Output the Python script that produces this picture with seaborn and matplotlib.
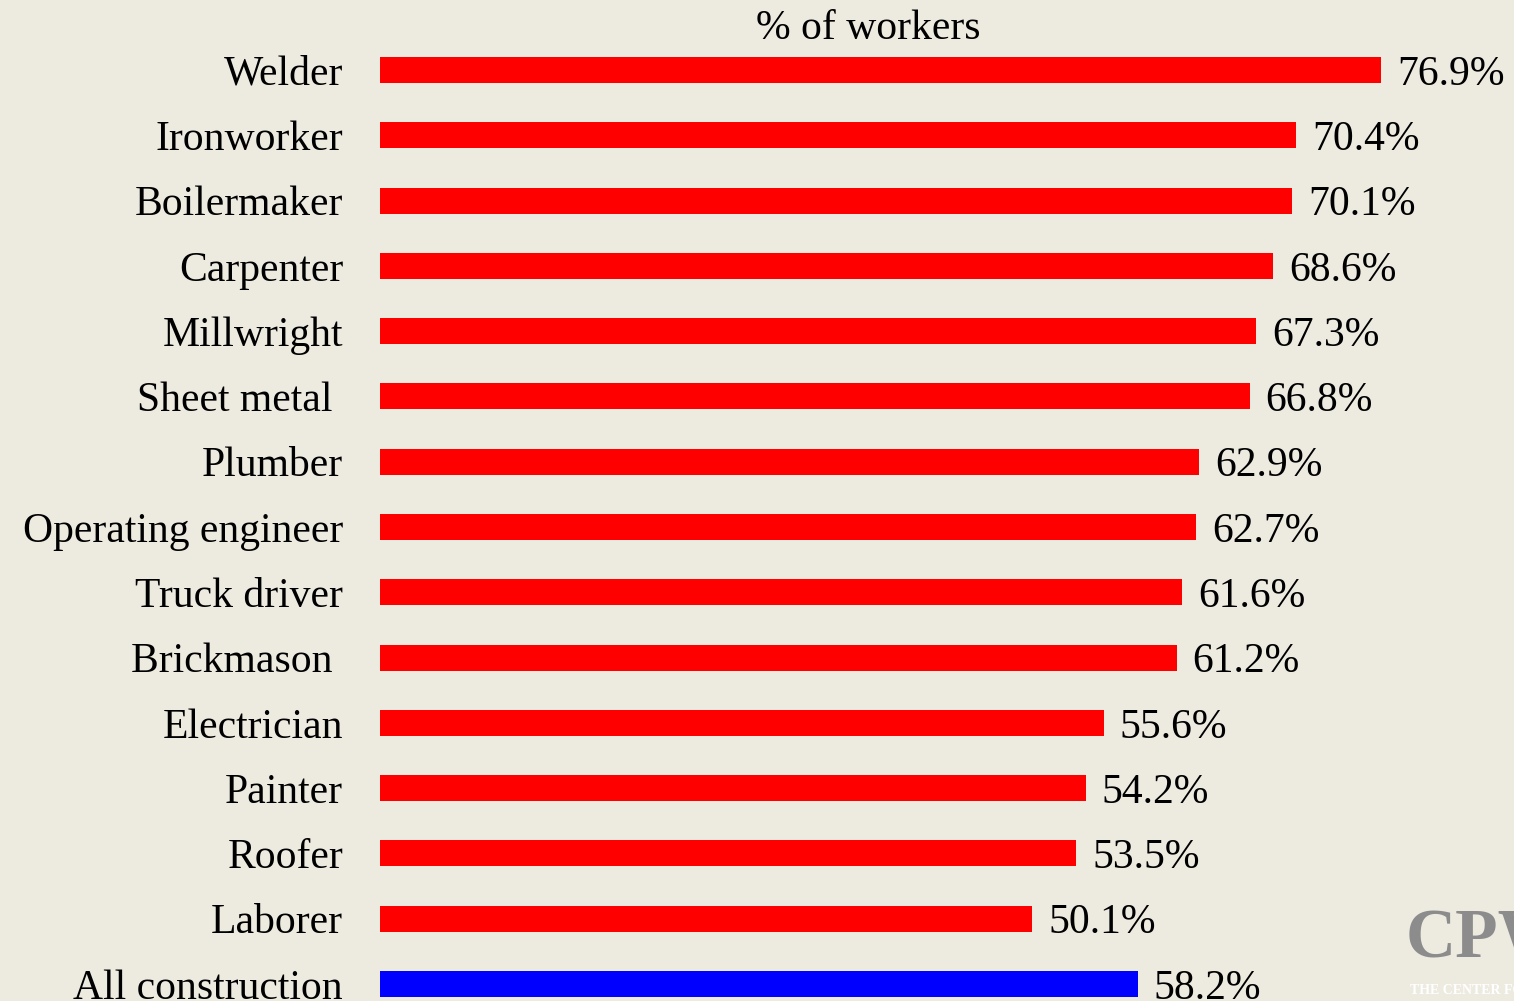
import matplotlib
matplotlib.use("Agg")
import matplotlib.pyplot as plt
import matplotlib.transforms as mtransforms
import seaborn as sns
import pandas as pd

occupations = ["Welder", "Ironworker", "Boilermaker", "Carpenter", "Millwright",
               "Sheet metal\u00a0", "Plumber", "Operating engineer", "Truck driver",
               "Brickmason\u00a0", "Electrician", "Painter", "Roofer", "Laborer",
               "All construction"]
values = [76.9, 70.4, 70.1, 68.6, 67.3, 66.8, 62.9, 62.7, 61.6, 61.2,
          55.6, 54.2, 53.5, 50.1, 58.2]
bar_colors = ["#FF0000"] * 14 + ["#0000FF"]
title_text = "% of workers"

bg = "#EDEAE0"
sns.set_theme(style="white")
plt.rcParams["font.family"] = ["Liberation Serif", "DejaVu Serif"]

df = pd.DataFrame({"occupation": occupations, "value": values})

fig = plt.figure(figsize=(15.14, 10.01), dpi=100)
fig.patch.set_facecolor(bg)
ax = fig.add_axes([380 / 1514, 0.0, 1 - 380 / 1514, 1.0])
ax.set_facecolor(bg)

sns.barplot(data=df, x="value", y="occupation", hue="occupation",
            palette=bar_colors, legend=False, width=0.4, ax=ax,
            saturation=1, orient="h", linewidth=0, edgecolor="none")

ax.set_xlim(0, 1134 / 13.017)
ax.set_ylim(14 + 17 / 65.29, -70 / 65.29)
ax.set_xlabel("")
ax.set_ylabel("")
ax.set_xticks([])
for s in ax.spines.values():
    s.set_visible(False)
ax.tick_params(axis="y", length=0, pad=26.6, labelsize=30, colors="black")

shift = mtransforms.offset_copy(ax.transData, fig=fig, x=0, y=-4.5, units="dots")
for i, v in enumerate(values):
    ax.text(v + 16 / 13.017, i, f"{v:.1f}%", va="center", ha="left",
            fontsize=30, color="black", clip_on=False, transform=shift)

fig.text(868 / 1514, 1 - 29 / 1001, title_text, ha="center", va="center",
         fontsize=30, color="black")

# logo
fig.text(1406 / 1514, 1 - 940 / 1001, "CPW", ha="left", va="center",
         fontsize=50, color="#8C8C8C", fontweight="bold")
fig.text(1410 / 1514, 1 - 990 / 1001, "THE CENTER FOR", ha="left", va="center",
         fontsize=10, color="#FFFFFF", fontweight="bold")

fig.savefig("out.png", dpi=100, facecolor=bg)
